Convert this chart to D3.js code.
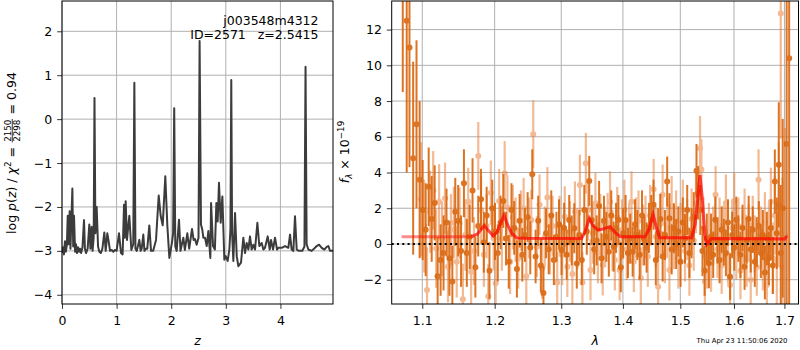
<!DOCTYPE html>
<html><head><meta charset="utf-8">
<script src="https://cdn.jsdelivr.net/npm/d3@7"></script>
<style>
body{margin:0;background:#fff}
svg text{font-family:"DejaVu Sans",sans-serif}
</style>
</head><body>
<svg id="c" width="800" height="350"></svg>
<script>
// ---------- DATA ----------
// Left panel: log p(z) vs redshift z  [z, log p]
const pzCurve = [
[0.000,-3.05],[0.020,-2.92],[0.035,-3.08],[0.055,-2.78],[0.070,-3.02],[0.090,-2.85],[0.105,-2.20],[0.120,-2.85],[0.140,-2.10],[0.155,-2.95],[0.170,-2.35],[0.190,-1.58],[0.205,-2.90],[0.220,-2.20],[0.240,-3.02],[0.256,-2.85],[0.275,-3.05],[0.295,-2.92],[0.315,-3.02],[0.330,-2.95],[0.350,-3.05],[0.375,-2.92],[0.403,-2.30],[0.420,-2.95],[0.440,-3.05],[0.470,-2.95],[0.500,-2.40],[0.520,-2.95],[0.543,-2.45],[0.560,-3.00],[0.580,-2.70],[0.595,0.48],[0.612,-2.60],[0.635,-2.00],[0.660,-2.90],[0.684,-3.02],[0.710,-3.05],[0.740,-2.95],[0.775,-2.58],[0.800,-3.00],[0.830,-2.60],[0.850,-2.75],[0.880,-3.00],[0.910,-2.98],[0.940,-3.02],[0.970,-2.98],[1.000,-3.00],[1.044,-2.60],[1.081,-3.05],[1.110,-3.08],[1.136,-1.95],[1.150,-2.70],[1.166,-1.87],[1.190,-2.75],[1.205,-2.55],[1.233,-2.20],[1.270,-2.98],[1.305,-2.85],[1.325,0.83],[1.345,-2.95],[1.370,-3.00],[1.416,-2.75],[1.440,-3.00],[1.460,-2.95],[1.489,-2.63],[1.510,-3.00],[1.535,-2.95],[1.562,-2.95],[1.599,-2.42],[1.630,-3.00],[1.670,-3.00],[1.722,-2.75],[1.771,-1.74],[1.807,-2.20],[1.844,-2.42],[1.892,-1.30],[1.929,-2.42],[1.966,-3.16],[2.015,-2.80],[2.035,-2.60],[2.055,0.25],[2.075,-2.90],[2.100,-3.00],[2.143,-2.29],[2.170,-3.00],[2.195,-2.85],[2.222,-2.70],[2.250,-2.98],[2.295,-2.60],[2.330,-2.95],[2.381,-2.50],[2.410,-2.75],[2.436,-2.73],[2.466,-2.86],[2.500,-2.70],[2.520,1.78],[2.545,-2.40],[2.570,-2.52],[2.588,-2.70],[2.619,-2.70],[2.650,-2.89],[2.680,-2.55],[2.717,-3.16],[2.730,-1.91],[2.766,-2.89],[2.800,-2.97],[2.827,-1.91],[2.851,-2.33],[2.875,-1.45],[2.906,-2.36],[2.937,-1.76],[2.973,-3.20],[2.998,-3.12],[3.034,-3.23],[3.065,-2.97],[3.085,-2.50],[3.100,0.89],[3.115,-2.60],[3.138,-3.23],[3.169,-2.14],[3.200,-3.12],[3.230,-3.35],[3.278,-3.27],[3.321,-2.70],[3.352,-3.05],[3.382,-2.82],[3.413,-2.97],[3.443,-2.67],[3.474,-2.97],[3.504,-2.86],[3.535,-2.97],[3.578,-2.36],[3.614,-2.89],[3.657,-2.82],[3.688,-2.97],[3.718,-2.93],[3.767,-2.67],[3.804,-2.97],[3.828,-2.75],[3.865,-2.97],[3.901,-2.70],[3.938,-2.97],[3.962,-2.93],[4.023,-2.93],[4.084,-2.89],[4.145,-2.93],[4.176,-2.63],[4.206,-2.97],[4.237,-3.00],[4.267,-2.21],[4.298,-2.97],[4.340,-3.00],[4.401,-3.00],[4.440,-2.90],[4.460,1.19],[4.480,-2.85],[4.512,-2.97],[4.573,-3.00],[4.634,-2.93],[4.664,-2.89],[4.707,-2.86],[4.756,-2.93],[4.805,-2.97],[4.847,-2.91],[4.878,-2.89],[4.909,-3.00],[4.963,-3.00]
];
const zTicks = [0,1,2,3,4];
const logpTicks = [-4,-3,-2,-1,0,1,2];

// Right panel: spectrum, dark orange series [lambda (um), flux, err]
const darkSpec = [
[1.0745,14.5,6.0],[1.0796,12.5,8.5],[1.0832,11.0,6.7],[1.0880,4.8,5.4],[1.0924,6.7,4.7],[1.0965,3.6,4.4],[1.1005,1.9,2.8],[1.1045,0.8,2.6],[1.1085,3.2,2.2],[1.1125,1.4,2.4],
[1.1165,2.3,2.1],[1.1205,-1.8,2.2],[1.1245,-0.9,2.0],[1.1285,-0.5,2.1],[1.1325,1.2,1.9],[1.1365,-0.8,2.1],[1.1405,-2.1,2.0],[1.1445,1.8,1.9],[1.1485,1.3,2.0],[1.1525,-0.4,2.0],
[1.1565,3.4,1.9],[1.1605,-0.5,1.9],[1.1645,0.4,1.8],[1.1685,3.0,1.8],[1.1725,-1.3,1.7],[1.1765,1.0,1.7],[1.1805,2.5,1.7],[1.1845,0.1,1.7],[1.1885,1.6,1.6],[1.1925,-1.5,1.6],
[1.1965,2.0,1.6],[1.2005,0.7,1.6],[1.2045,-0.5,1.6],[1.2085,1.2,1.5],[1.2125,2.4,1.5],[1.2165,0.3,1.5],[1.2205,-1.0,1.5],[1.2245,1.9,1.5],[1.2285,0.9,1.5],[1.2325,-1.4,1.6],
[1.2365,1.3,1.5],[1.2405,-0.6,1.5],[1.2445,0.5,1.5],[1.2485,1.5,1.4],[1.2525,-0.2,1.5],[1.2555,3.9,1.4],[1.2605,-0.7,1.5],[1.2645,1.3,1.4],[1.2685,-1.2,1.5],[1.2725,-2.75,1.5],
[1.2765,0.6,1.4],[1.2805,-0.3,1.4],[1.2845,1.6,1.4],[1.2885,-0.9,1.4],[1.2925,0.4,1.4],[1.2965,1.1,1.4],[1.3005,-0.34,1.4],[1.3045,0.9,1.4],[1.3085,-0.6,1.4],[1.3125,1.34,1.4],
[1.3165,0.2,1.4],[1.3205,0.88,1.4],[1.3245,-1.1,1.4],[1.3285,0.5,1.4],[1.3325,-0.9,1.4],[1.3365,1.9,1.4],[1.3405,0.7,1.3],[1.3445,3.53,1.4],[1.3485,1.34,1.4],[1.3525,-0.3,1.4],
[1.3565,0.2,1.4],[1.3605,2.13,1.4],[1.3645,-0.8,1.4],[1.3685,1.3,1.4],[1.3725,0.4,1.4],[1.3765,-0.43,1.4],[1.3805,1.6,1.4],[1.3845,-0.15,1.4],[1.3885,0.9,1.4],[1.3925,1.34,1.4],
[1.3965,-1.3,1.4],[1.4005,0.6,1.4],[1.4045,1.34,1.4],[1.4085,-0.5,1.4],[1.4125,0.3,1.4],[1.4165,-0.43,1.4],[1.4205,1.1,1.4],[1.4245,0.5,1.4],[1.4285,-0.6,1.4],[1.4325,1.6,1.4],
[1.4365,0.2,1.4],[1.4405,-0.2,1.4],[1.4445,0.9,1.4],[1.4485,1.34,1.4],[1.4525,2.2,1.4],[1.4565,-0.9,1.4],[1.4605,0.6,1.4],[1.4645,1.4,1.4],[1.4685,-0.7,1.4],[1.4725,0.5,1.4],
[1.4765,3.49,1.4],[1.4805,1.44,1.4],[1.4845,-0.3,1.4],[1.4885,0.88,1.4],[1.4925,0.0,1.4],[1.4965,0.7,1.4],[1.5005,-1.0,1.4],[1.5045,1.2,1.4],[1.5085,0.3,1.4],[1.5125,1.9,1.4],
[1.5165,-0.5,1.4],[1.5205,0.6,1.4],[1.5245,1.5,1.4],[1.5295,4.1,1.5],[1.5325,2.87,1.5],[1.5365,1.9,1.4],[1.5405,-0.4,1.4],[1.5445,-1.5,1.4],[1.5485,0.3,1.4],[1.5525,-1.08,1.4],
[1.5565,0.4,1.3],[1.5605,-0.6,1.3],[1.5645,1.35,1.3],[1.5685,0.2,1.3],[1.5725,-0.9,1.3],[1.5765,0.8,1.3],[1.5805,0.1,1.3],[1.5845,-0.5,1.3],[1.5885,1.2,1.3],[1.5925,-1.83,1.3],
[1.5965,0.5,1.3],[1.6005,-0.2,1.3],[1.6045,1.35,1.3],[1.6085,0.3,1.3],[1.6125,-0.6,1.3],[1.6165,0.9,1.3],[1.6205,-1.27,1.3],[1.6245,0.2,1.3],[1.6285,1.4,1.3],[1.6325,-0.3,1.3],
[1.6365,0.8,1.3],[1.6405,-1.0,1.4],[1.6445,0.1,1.4],[1.6485,1.0,1.4],[1.6525,-0.5,1.4],[1.6565,0.5,1.4],[1.6605,-1.6,1.5],[1.6645,0.3,1.5],[1.6685,-0.8,1.5],[1.6725,0.9,1.6],
[1.6765,-1.2,1.6],[1.6805,3.49,1.8],[1.6845,0.6,2.0],[1.6885,4.43,3.5],[1.6925,-0.5,3.8],[1.6965,2.0,5.0],[1.7045,5.6,12.0],[1.7097,10.4,14.0]
];
// Right panel: light orange series [lambda, flux, err]
const lightSpec = [
[1.0985,2.5,3.2],[1.1025,1.0,2.6],[1.1063,-2.58,2.4],[1.1105,1.8,2.3],[1.1145,3.0,2.2],[1.1185,-0.25,2.2],[1.1225,2.37,2.1],[1.1265,0.3,2.1],[1.1305,2.56,2.0],[1.1345,-1.27,2.0],
[1.1385,0.8,2.0],[1.1425,1.2,2.0],[1.1465,-1.0,2.0],[1.1505,1.16,2.0],[1.1550,-3.1,2.0],[1.1585,0.5,2.0],[1.1625,2.37,1.9],[1.1665,-1.55,1.9],[1.1705,-0.4,1.9],[1.1766,4.93,1.9],
[1.1805,1.9,1.9],[1.1845,-0.6,1.8],[1.1885,1.0,1.8],[1.1908,-2.93,1.8],[1.1945,2.87,1.8],[1.1985,0.32,1.8],[1.2015,-2.2,1.8],[1.2065,2.4,1.8],[1.2105,0.3,1.8],[1.2145,3.96,1.8],
[1.2185,2.05,1.8],[1.2225,-1.0,1.8],[1.2265,1.5,1.8],[1.2305,0.8,1.8],[1.2345,-0.8,1.7],[1.2385,1.3,1.7],[1.2425,2.0,1.7],[1.2465,-1.8,1.7],[1.2505,0.9,1.7],[1.2540,1.34,1.7],
[1.2570,6.14,1.9],[1.2625,-0.15,1.7],[1.2665,2.2,1.7],[1.2705,-1.36,1.7],[1.2745,0.4,1.7],[1.2785,2.6,1.7],[1.2825,0.0,1.7],[1.2865,1.0,1.7],[1.2937,-2.16,1.7],[1.2975,1.0,1.7],
[1.3015,-0.6,1.7],[1.3055,1.53,1.7],[1.3095,-1.27,1.7],[1.3135,0.7,1.7],[1.3175,-1.68,1.7],[1.3215,1.8,1.7],[1.3255,0.3,1.7],[1.3295,3.3,1.7],[1.3335,-2.16,1.7],[1.3390,4.52,1.7],
[1.3425,1.9,1.7],[1.3465,-1.45,1.7],[1.3505,0.6,1.7],[1.3545,2.28,1.7],[1.3585,-0.5,1.7],[1.3625,1.1,1.7],[1.3665,-1.18,1.7],[1.3705,0.4,1.7],[1.3745,1.16,1.7],[1.3785,2.37,1.7],
[1.3825,0.2,1.7],[1.3865,-0.9,1.7],[1.3905,1.5,1.7],[1.3945,-1.45,1.7],[1.3985,0.8,1.7],[1.4025,1.9,1.7],[1.4065,-0.3,1.7],[1.4105,0.6,1.7],[1.4145,2.37,1.7],[1.4185,-1.0,1.7],
[1.4225,0.9,1.7],[1.4265,1.3,1.7],[1.4305,-1.9,1.7],[1.4345,0.5,1.7],[1.4385,1.0,1.7],[1.4425,-0.7,1.7],[1.4465,1.6,1.7],[1.4527,3.06,1.7],[1.4565,0.4,1.7],[1.4605,-2.4,1.7],
[1.4645,1.1,1.7],[1.4685,2.75,1.7],[1.4725,-0.5,1.7],[1.4765,0.9,1.7],[1.4805,-1.46,1.7],[1.4845,2.1,1.7],[1.4885,0.3,1.7],[1.4925,1.3,1.7],[1.4965,-0.8,1.7],[1.5005,0.6,1.7],
[1.5045,1.9,1.7],[1.5085,-0.4,1.7],[1.5125,0.8,1.7],[1.5165,-1.2,1.7],[1.5205,1.4,1.7],[1.5245,0.2,1.7],[1.5285,2.3,1.7],[1.5360,5.36,1.8],[1.5385,4.17,1.7],[1.5425,0.9,1.7],
[1.5450,-2.1,1.7],[1.5490,-0.9,1.6],[1.5525,0.7,1.6],[1.5565,-1.08,1.6],[1.5605,0.5,1.6],[1.5650,2.75,1.6],[1.5685,-0.3,1.6],[1.5725,1.0,1.6],[1.5765,-1.2,1.6],[1.5805,0.6,1.6],
[1.5845,2.29,1.6],[1.5885,-0.6,1.6],[1.5925,-2.3,1.6],[1.5965,0.9,1.6],[1.6005,2.4,1.6],[1.6045,-0.4,1.6],[1.6085,1.0,1.6],[1.6125,-1.5,1.6],[1.6165,0.3,1.6],[1.6205,1.5,1.6],
[1.6245,-0.8,1.6],[1.6285,0.6,1.6],[1.6325,-2.0,1.6],[1.6365,1.1,1.6],[1.6405,0.0,1.6],[1.6445,-1.3,1.6],[1.6480,3.6,1.7],[1.6525,0.4,1.7],[1.6565,-0.9,1.7],[1.6605,1.2,1.7],
[1.6645,-2.3,1.8],[1.6685,0.5,1.8],[1.6725,2.37,1.9],[1.6765,-0.8,2.0],[1.6805,1.6,2.2],[1.6845,-1.0,2.6],[1.6885,2.2,3.5],[1.6925,12.9,7.0],[1.6960,-1.3,5.0],[1.7010,0.5,6.0]
];
// Model (red) [lambda, flux]
const modelA = [
[1.073,0.41],[1.167,0.41],[1.175,0.55],[1.180,0.78],[1.185,1.03],[1.191,0.75],[1.198,0.45],[1.204,0.70],[1.209,1.20],[1.2135,1.62],[1.219,1.05],[1.225,0.60],[1.232,0.34],[1.245,0.32],[1.332,0.31],[1.338,0.70],[1.3445,1.44],[1.351,1.00],[1.359,0.78],[1.368,0.85],[1.3784,0.97],[1.387,0.65],[1.396,0.41],[1.4377,0.41],[1.445,0.85],[1.4516,1.66],[1.457,1.00],[1.4634,0.35],[1.5206,0.35],[1.527,1.10],[1.532,2.60],[1.5359,3.85],[1.540,2.60],[1.5445,0.60],[1.5482,-0.03],[1.553,0.15],[1.557,0.30],[1.701,0.28],[1.7045,0.45]
];
const modelBStart = 1.167;
const lamTicks = [1.1,1.2,1.3,1.4,1.5,1.6,1.7];
const fluxTicks = [-2,0,2,4,6,8,10,12];
const titleLines = ["j003548m4312", "ID=2571   z=2.5415"];
const stamp = "Thu Apr 23 11:50:06 2020";

// ---------- DRAW ----------
const svg = d3.select("#c");
const FS = 12.5;
const LA = {x0:62, x1:333, y0:1, y1:304};
const RA = {x0:391.7, x1:798.5, y0:1, y1:304};

const xz = d3.scaleLinear().domain([0,4.963]).range([LA.x0,LA.x1]);
const yz = d3.scaleLinear().domain([-4.21,2.69]).range([LA.y1,LA.y0]);
const xl = d3.scaleLog().domain([1.0603,1.7290]).range([RA.x0,RA.x1]);
const yf = d3.scaleLinear().domain([-3.36,13.6]).range([RA.y1,RA.y0]);

const defs = svg.append("defs");
defs.append("clipPath").attr("id","clipL").append("rect").attr("x",LA.x0).attr("y",LA.y0).attr("width",LA.x1-LA.x0).attr("height",LA.y1-LA.y0);
defs.append("clipPath").attr("id","clipR").append("rect").attr("x",RA.x0).attr("y",RA.y0).attr("width",RA.x1-RA.x0).attr("height",RA.y1-RA.y0);

function grid(ax, xs, xt, ys, yt){
  const g = svg.append("g");
  g.selectAll("line.v").data(xt).join("line")
    .attr("x1",d=>xs(d)).attr("x2",d=>xs(d)).attr("y1",ax.y0).attr("y2",ax.y1)
    .attr("stroke","#b0b0b0").attr("stroke-width",1);
  g.selectAll("line.h").data(yt).join("line")
    .attr("y1",d=>yf===ys?ys(d):ys(d)).attr("y2",d=>ys(d)).attr("x1",ax.x0).attr("x2",ax.x1)
    .attr("stroke","#b0b0b0").attr("stroke-width",1);
}
grid(LA, xz, zTicks, yz, logpTicks);
grid(RA, xl, lamTicks, yf, fluxTicks);

// Left: p(z) curve
svg.append("path").datum(pzCurve).attr("clip-path","url(#clipL)")
  .attr("fill","none").attr("stroke","#3c3c3c").attr("stroke-width",2).attr("stroke-linejoin","round")
  .attr("d", d3.line().x(d=>xz(d[0])).y(d=>yz(d[1])));

// Right: spectra
const gR = svg.append("g").attr("clip-path","url(#clipR)");
function drawSpec(data, color, op, lw){
  const g = gR.append("g").attr("opacity",op);
  g.selectAll("line").data(data).join("line")
    .attr("x1",d=>xl(d[0])).attr("x2",d=>xl(d[0]))
    .attr("y1",d=>yf(d[1]-d[2])).attr("y2",d=>yf(d[1]+d[2]))
    .attr("stroke",color).attr("stroke-width",lw);
  g.selectAll("circle").data(data).join("circle")
    .attr("cx",d=>xl(d[0])).attr("cy",d=>yf(d[1])).attr("r",3).attr("fill",color);
}
drawSpec(lightSpec, "#e8772a", 0.5, 2.2);
drawSpec(darkSpec, "#d9650c", 0.9, 2);

const mline = d3.line().x(d=>xl(d[0])).y(d=>yf(d[1]));
gR.append("path").datum(modelA).attr("fill","none").attr("stroke","#ff0000").attr("stroke-opacity",0.45).attr("stroke-width",3).attr("d",mline);
gR.append("path").datum(modelA.filter(d=>d[0]>=modelBStart)).attr("fill","none").attr("stroke","#ff0000").attr("stroke-opacity",0.45).attr("stroke-width",3).attr("d",mline);

// zero line
svg.append("line").attr("x1",RA.x0).attr("x2",RA.x1).attr("y1",yf(0)).attr("y2",yf(0))
  .attr("stroke","#000").attr("stroke-width",2).attr("stroke-dasharray","2,3.3");

// frames
[LA,RA].forEach(a=>svg.append("rect").attr("x",a.x0).attr("y",a.y0).attr("width",a.x1-a.x0).attr("height",a.y1-a.y0)
  .attr("fill","none").attr("stroke","#000").attr("stroke-width",1));

// axes
function styleAxis(g, isX){
  g.select(".domain").remove();
  g.selectAll(".tick line").attr("stroke","#000").attr("stroke-width",0.8);
  g.selectAll("text").attr("font-family","DejaVu Sans").attr("font-size",FS).attr("fill","#000");
  if(isX) g.selectAll("text").attr("y",21).attr("dy",0);
}
styleAxis(svg.append("g").attr("transform",`translate(0,${LA.y1})`).call(d3.axisBottom(xz).tickValues(zTicks).tickFormat(d3.format("d")).tickSize(4.86).tickPadding(4.86)), true);
styleAxis(svg.append("g").attr("transform",`translate(${LA.x0},0)`).call(d3.axisLeft(yz).tickValues(logpTicks).tickFormat(d3.format("d")).tickSize(4.86).tickPadding(4.86)), false);
styleAxis(svg.append("g").attr("transform",`translate(0,${RA.y1})`).call(d3.axisBottom(xl).tickValues(lamTicks).tickFormat(d3.format(".1f")).tickSize(4.86).tickPadding(4.86)), true);
styleAxis(svg.append("g").attr("transform",`translate(${RA.x0},0)`).call(d3.axisLeft(yf).tickValues(fluxTicks).tickFormat(d3.format("d")).tickSize(4.86).tickPadding(4.86)), false);

// title text (left panel, top-right)
titleLines.forEach((t,i)=>svg.append("text").attr("x",318.5).attr("y",25+i*14).attr("text-anchor","end")
  .style("font-size",FS+"px").style("white-space","pre").text(t));

// x labels
svg.append("text").attr("x",(LA.x0+LA.x1)/2).attr("y",345).attr("text-anchor","middle").style("font-size",FS+"px").style("font-style","italic").text("z");
svg.append("text").attr("x",(RA.x0+RA.x1)/2).attr("y",345).attr("text-anchor","middle").style("font-size",FS+"px").style("font-style","italic").text("λ");

// rich rotated labels
function rich(cx, cy, pieces){
  const g = svg.append("g").attr("transform",`translate(${cx},${cy}) rotate(-90)`);
  const inner = g.append("g");
  let x = 0;
  for(const p of pieces){
    if(p.frac){
      const s = FS*0.7;
      const n = inner.append("text").style("font-size",s+"px").text(p.frac[0]);
      const d = inner.append("text").style("font-size",s+"px").text(p.frac[1]);
      const w = Math.max(n.node().getComputedTextLength(), d.node().getComputedTextLength());
      const pad = 1.2, axis = FS*0.3;
      n.attr("text-anchor","middle").attr("x",x+pad+w/2).attr("y",-axis-1.6);
      d.attr("text-anchor","middle").attr("x",x+pad+w/2).attr("y",-axis+1.6+s*0.73);
      inner.append("line").attr("x1",x+pad*0.5).attr("x2",x+w+pad*1.5).attr("y1",-axis).attr("y2",-axis).attr("stroke","#000").attr("stroke-width",0.8);
      x += w + 2*pad;
      continue;
    }
    const s = FS*(p.scale||1);
    const t = inner.append("text").attr("x",x).attr("y",p.dy||0).style("font-size",s+"px")
      .style("font-style",p.it?"italic":"normal").style("white-space","pre").text(p.t);
    x += t.node().getComputedTextLength();
  }
  inner.attr("transform",`translate(${-x/2},0)`);
}
rich(16, 153, [{t:"log "},{t:"p",it:1},{t:"("},{t:"z",it:1},{t:") / "},{t:"χ",it:1},{t:"2",scale:0.7,dy:-5},{t:" = "},{frac:["2150","2298"]},{t:" = 0.94"}]);
rich(349, 152, [{t:"f",it:1},{t:"λ",it:1,scale:0.7,dy:3},{t:" × 10"},{t:"−19",scale:0.7,dy:-5}]);

// timestamp
svg.append("text").attr("x",787.5).attr("y",342.5).attr("text-anchor","end").style("font-size","6.9px").text(stamp);
</script>
</body></html>
